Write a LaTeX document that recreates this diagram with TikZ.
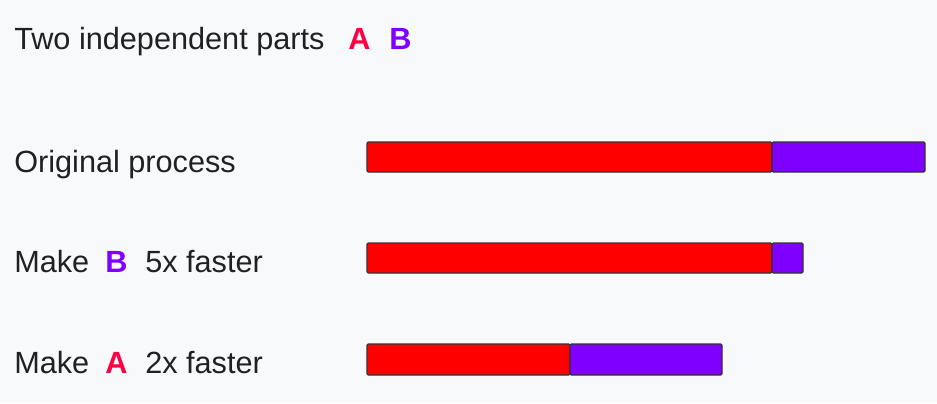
\documentclass[tikz,border=0pt]{standalone}
\usepackage{fontspec}
\setmainfont{Liberation Sans}
\usetikzlibrary{positioning}
\definecolor{partA}{HTML}{FF0000}
\definecolor{partB}{HTML}{8000FF}
\definecolor{letterA}{HTML}{FF0044}
\definecolor{ink}{HTML}{202122}
\definecolor{paper}{HTML}{F8F9FA}
\tikzset{
  lbl/.style   = {anchor=base west, inner sep=0pt, text=ink,
                  font=\fontsize{23}{27}\selectfont},
  tagA/.style  = {lbl, text=letterA, font=\fontsize{23}{27}\selectfont\bfseries},
  tagB/.style  = {lbl, text=partB, font=\fontsize{23}{27}\selectfont\bfseries},
  barA/.style  = {draw=black!80, line width=0.9pt, fill=partA, rounded corners=1pt},
  barB/.style  = {draw=black!80, line width=0.9pt, fill=partB, rounded corners=1pt},
}

\begin{document}
\begin{tikzpicture}[x=0.75pt,y=-0.75pt]
  \fill[paper] (0,0) rectangle (937,403);
  \useasboundingbox (0,0) rectangle (937,403);
  % heading
  \node[lbl]  (head)  at (14,50)  {Two independent parts};
  \node[tagA] (headA) at (348,50) {A};
  \node[tagB] (headB) at (389,50) {B};
  % row labels
  \node[lbl]  (orig)  at (14,172) {Original process};
  \node[lbl]  (mkB)   at (14,272) {Make};
  \node[tagB] (mkBt)  at (105,272) {B};
  \node[lbl]  (mkBs)  at (145,272) {5x faster};
  \node[lbl]  (mkA)   at (14,373) {Make};
  \node[tagA] (mkAt)  at (105,373) {A};
  \node[lbl]  (mkAs)  at (145,373) {2x faster};
  % bars
  \draw[barA] (367,142) rectangle (772,172);
  \draw[barB] (772,142) rectangle (925,172);
  \draw[barA] (367,243) rectangle (772,273);
  \draw[barB] (772,243) rectangle (803,273);
  \draw[barA] (367,344) rectangle (570,375);
  \draw[barB] (570,344) rectangle (722,375);
\end{tikzpicture}
\end{document}
